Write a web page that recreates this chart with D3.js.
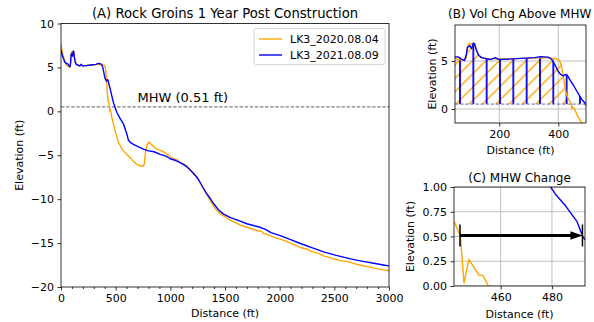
<!DOCTYPE html>
<html>
<head>
<meta charset="utf-8">
<script src="https://d3js.org/d3.v7.min.js"></script>
<style>
  body { margin: 0; background: #fff; }
  svg { font-family: "DejaVu Sans", sans-serif; }
</style>
</head>
<body>
<div id="chart"></div>
<script>
var svgWidth = 594;
var svgHeight = 322;

// ---- data ----
var mhw = 0.51;
var seriesNames = ["LK3_2020.08.04", "LK3_2021.08.09"];
var seriesColors = ["#ffa500", "#0000ff"];

// [distance (ft), elevation (ft)]
var profile2020 = [
  [0,7.7],[5,7.3],[10,6.9],[18,6.4],[30,5.9],[45,5.4],[57,5.15],[75,5.1],[88,5.3],[92,6.5],
  [97,6.8],[105,6.75],[110,6.85],[116,6.8],[122,6.1],[130,5.6],[140,5.35],[160,5.25],[200,5.2],
  [250,5.25],[300,5.3],[350,5.35],[394,5.25],[403,5.1],[410,4.6],[416,3.6],[421,2.6],[427,1.6],
  [434,1.05],[439,0.78],[442.4,0.62],[444.3,0.5],[444.7,0.37],[445.7,0.03],[447.6,0.27],
  [451.5,0.11],[453,0.11],[455.2,0.0],[465,-0.7],[494,-2.2],[525,-3.5],[550,-4.1],[571,-4.5],
  [600,-4.9],[632,-5.25],[662,-5.7],[690,-6.0],[723,-6.2],[750,-6.25],[762,-6.0],[770,-4.9],
  [785,-3.9],[800,-3.5],[820,-3.7],[850,-4.0],[876,-4.3],[920,-4.5],[968,-4.85],[1000,-5.2],
  [1029,-5.4],[1060,-5.5],[1090,-5.8],[1120,-5.95],[1150,-6.2],[1200,-6.9],[1243,-7.5],
  [1280,-8.3],[1334,-9.5],[1395,-10.8],[1440,-11.5],[1487,-11.9],[1550,-12.4],[1600,-12.7],
  [1650,-13.0],[1700,-13.2],[1750,-13.4],[1800,-13.6],[1830,-13.65],[1860,-13.95],[1883,-14.0],
  [1940,-14.3],[2005,-14.55],[2050,-14.75],[2100,-15.0],[2189,-15.5],[2250,-15.7],[2300,-16.0],
  [2350,-16.15],[2402,-16.45],[2480,-16.75],[2555,-17.0],[2600,-17.05],[2647,-17.2],[2700,-17.4],
  [2750,-17.55],[2800,-17.65],[2860,-17.85],[2950,-18.05],[3000,-18.15]
];

var profile2021 = [
  [0,7.0],[8,6.5],[20,6.1],[35,5.6],[50,5.45],[62,5.4],[72,5.2],[82,5.05],[88,5.6],[92,6.4],
  [100,6.6],[106,6.3],[112,6.85],[116,6.8],[122,6.2],[130,5.6],[140,5.35],[155,5.25],[170,5.15],
  [186,5.35],[200,5.15],[230,5.2],[260,5.25],[290,5.3],[320,5.35],[340,5.45],[365,5.4],
  [375,5.25],[383,4.95],[392,4.4],[400,3.9],[408,3.6],[417,3.44],[424,3.6],[430,3.55],[440,3.0],
  [451,2.5],[463,1.85],[474,1.28],[479.5,1.0],[481.3,0.93],[485.3,0.81],[489.8,0.65],
  [492.2,0.49],[494,0.44],[510,-0.1],[540,-0.8],[571,-1.44],[600,-2.5],[617,-3.3],[640,-3.6],
  [662,-3.75],[700,-4.0],[754,-4.3],[800,-4.5],[850,-4.6],[907,-4.9],[960,-5.1],[998,-5.4],
  [1050,-5.6],[1090,-5.85],[1150,-6.3],[1200,-6.9],[1243,-7.5],[1273,-8.1],[1300,-8.7],
  [1334,-9.4],[1364,-9.9],[1395,-10.5],[1440,-11.2],[1487,-11.7],[1550,-12.1],[1639,-12.5],
  [1700,-12.8],[1760,-13.0],[1822,-13.2],[1870,-13.45],[1920,-13.8],[2005,-14.15],[2100,-14.6],
  [2189,-15.05],[2300,-15.55],[2402,-16.0],[2500,-16.35],[2647,-16.8],[2750,-17.05],
  [2860,-17.3],[2950,-17.5],[3000,-17.6]
];

var xTicksA = [0, 500, 1000, 1500, 2000, 2500, 3000];
var yTicksA = [-20, -15, -10, -5, 0, 5, 10];
var xTicksB = [200, 400];
var yTicksB = [0, 5];
var xTicksC = [460, 480];
var yTicksC = [0, 0.25, 0.5, 0.75, 1.0];

// ---- svg ----
var svg = d3.select("#chart")
  .append("svg")
  .attr("width", svgWidth)
  .attr("height", svgHeight);

var defs = svg.append("defs");

// first downward crossing of the MHW level after a given distance
function crossing(data, level, from) {
  for (var i = 0; i < data.length - 1; i++) {
    var a = data[i], b = data[i + 1];
    if (a[0] >= from && a[1] >= level && b[1] < level) {
      return a[0] + (a[1] - level) / (a[1] - b[1]) * (b[0] - a[0]);
    }
  }
  return null;
}
var cross2020 = crossing(profile2020, mhw, 400);
var cross2021 = crossing(profile2021, mhw, 400);

function styleAxis(g) {
  g.select(".domain").remove();
  g.selectAll(".tick line").attr("stroke", "#000").attr("stroke-width", 0.8);
  g.selectAll(".tick text").attr("fill", "#000").style("font-size", "11px")
    .style("font-family", "DejaVu Sans, sans-serif");
}

function makePanel(p) {
  var x = d3.scaleLinear().domain(p.xDomain).range([p.left, p.right]);
  var y = d3.scaleLinear().domain(p.yDomain).range([p.bottom, p.top]);

  defs.append("clipPath").attr("id", "clip" + p.id)
    .append("rect")
    .attr("x", p.left).attr("y", p.top)
    .attr("width", p.right - p.left).attr("height", p.bottom - p.top);

  var g = svg.append("g");

  g.append("g")
    .attr("transform", `translate(0, ${p.bottom})`)
    .call(d3.axisBottom(x).tickValues(p.xTicks).tickSize(3.5).tickPadding(3.5).tickFormat(p.xFormat || d3.format("d")))
    .call(styleAxis);

  g.append("g")
    .attr("transform", `translate(${p.left}, 0)`)
    .call(d3.axisLeft(y).tickValues(p.yTicks).tickSize(3.5).tickPadding(3.5).tickFormat(p.yFormat || d3.format("d")))
    .call(styleAxis);

  var title = g.append("text")
    .attr("y", p.titleY)
    .style("font-size", p.titleSize)
    .text(p.title);
  if (p.titleStart != null) {
    title.attr("x", p.titleStart).attr("text-anchor", "start");
  } else {
    title.attr("x", (p.left + p.right) / 2).attr("text-anchor", "middle");
  }

  g.append("text")
    .attr("x", (p.left + p.right) / 2)
    .attr("y", p.xLabelY)
    .attr("text-anchor", "middle")
    .style("font-size", "11px")
    .text("Distance (ft)");

  g.append("text")
    .attr("transform", `translate(${p.yLabelX}, ${(p.top + p.bottom) / 2}) rotate(-90)`)
    .attr("text-anchor", "middle")
    .style("font-size", "11px")
    .text("Elevation (ft)");

  var plot = g.append("g").attr("clip-path", `url(#clip${p.id})`);
  return { x: x, y: y, g: g, plot: plot, p: p };
}

function grid(panel, xs, ys) {
  var gg = panel.plot.append("g");
  gg.selectAll(".gx").data(xs).enter().append("line")
    .attr("x1", d => panel.x(d)).attr("x2", d => panel.x(d))
    .attr("y1", panel.p.top).attr("y2", panel.p.bottom)
    .attr("stroke", "#b0b0b0").attr("stroke-width", 0.8);
  gg.selectAll(".gy").data(ys).enter().append("line")
    .attr("x1", panel.p.left).attr("x2", panel.p.right)
    .attr("y1", d => panel.y(d)).attr("y2", d => panel.y(d))
    .attr("stroke", "#b0b0b0").attr("stroke-width", 0.8);
}

function drawLines(panel, width) {
  var line = d3.line().x(d => panel.x(d[0])).y(d => panel.y(d[1]));
  [profile2020, profile2021].forEach(function(data, i) {
    panel.plot.append("path")
      .datum(data)
      .attr("d", line)
      .attr("fill", "none")
      .attr("stroke", seriesColors[i])
      .attr("stroke-width", width)
      .attr("stroke-linejoin", "round");
  });
}

function frame(panel) {
  var p = panel.p;
  panel.g.append("rect")
    .attr("x", p.left).attr("y", p.top)
    .attr("width", p.right - p.left).attr("height", p.bottom - p.top)
    .attr("fill", "none").attr("stroke", "#000").attr("stroke-width", 0.8);
}

// ---- (A) full profile ----
var A = makePanel({
  id: "A", left: 61, right: 389, top: 23.5, bottom: 287,
  xDomain: [0, 3000], yDomain: [-20, 10],
  xTicks: xTicksA, yTicks: yTicksA,
  title: "(A) Rock Groins 1 Year Post Construction", titleY: 17.5, titleSize: "13.2px",
  xLabelY: 316.5, yLabelX: 23
});

// minor x ticks
A.g.append("g")
  .attr("transform", `translate(0, ${A.p.bottom})`)
  .call(d3.axisBottom(A.x).tickValues(d3.range(100, 3000, 100).filter(d => d % 500 !== 0)).tickSize(2).tickFormat(""))
  .call(styleAxis);

A.plot.append("line")
  .attr("x1", A.p.left).attr("x2", A.p.right)
  .attr("y1", A.y(mhw)).attr("y2", A.y(mhw))
  .attr("stroke", "#808080").attr("stroke-width", 1.1)
  .attr("stroke-dasharray", "3.5,1.6");

A.g.append("text")
  .attr("x", A.x(700))
  .attr("y", A.y(mhw) - 4.5)
  .style("font-size", "13px")
  .text("MHW (0.51 ft)");

drawLines(A, 1.4);
frame(A);

// legend
var legend = A.g.append("g");
legend.append("rect")
  .attr("x", 254).attr("y", 28.5).attr("width", 131).attr("height", 36)
  .attr("rx", 2).attr("fill", "#fff").attr("fill-opacity", 0.8)
  .attr("stroke", "#cccccc").attr("stroke-width", 0.8);
seriesNames.forEach(function(name, i) {
  legend.append("line")
    .attr("x1", 259).attr("x2", 282)
    .attr("y1", 39 + i * 16).attr("y2", 39 + i * 16)
    .attr("stroke", seriesColors[i]).attr("stroke-width", 1.4);
  legend.append("text")
    .attr("x", 290).attr("y", 43 + i * 16)
    .style("font-size", "11px")
    .text(name);
});

// ---- (B) volume change above MHW ----
var B = makePanel({
  id: "B", left: 455, right: 586, top: 25, bottom: 123,
  xDomain: [50, 494], yDomain: [-1.46, 8.75],
  xTicks: xTicksB, yTicks: yTicksB,
  title: "(B) Vol Chg Above MHW", titleY: 18, titleSize: "12px", titleStart: 448,
  xLabelY: 153.5, yLabelX: 436
});

grid(B, xTicksB, yTicksB);

var hatchStep = 13.33;
var patO = defs.append("pattern").attr("id", "hatchOrange")
  .attr("patternUnits", "userSpaceOnUse")
  .attr("x", 455).attr("y", 25)
  .attr("width", hatchStep).attr("height", hatchStep);
patO.append("path")
  .attr("d", `M0,${hatchStep} L${hatchStep},0 M-2,2 L2,-2 M${hatchStep - 2},${hatchStep + 2} L${hatchStep + 2},${hatchStep - 2}`)
  .attr("stroke", seriesColors[0]).attr("stroke-width", 1.4);

var patB = defs.append("pattern").attr("id", "hatchBlue")
  .attr("patternUnits", "userSpaceOnUse")
  .attr("x", 460 - hatchStep / 2).attr("y", 0)
  .attr("width", hatchStep).attr("height", hatchStep);
patB.append("line")
  .attr("x1", hatchStep / 2).attr("x2", hatchStep / 2)
  .attr("y1", 0).attr("y2", hatchStep)
  .attr("stroke", seriesColors[1]).attr("stroke-width", 1.8);

function aboveMhw(data, cross) {
  var pts = data.filter(d => d[0] < cross);
  pts.push([cross, mhw]);
  return pts;
}
var area = d3.area()
  .x(d => B.x(d[0]))
  .y0(B.y(mhw))
  .y1(d => B.y(d[1]));

B.plot.append("path").datum(aboveMhw(profile2020, cross2020))
  .attr("d", area).attr("fill", "url(#hatchOrange)");
B.plot.append("path").datum(aboveMhw(profile2021, cross2021))
  .attr("d", area).attr("fill", "url(#hatchBlue)");

B.plot.append("line")
  .attr("x1", B.p.left).attr("x2", B.p.right)
  .attr("y1", B.y(mhw)).attr("y2", B.y(mhw))
  .attr("stroke", "#6a6aa8").attr("stroke-width", 1)
  .attr("stroke-dasharray", "3.5,1.6");

drawLines(B, 1.4);
frame(B);

// ---- (C) MHW shoreline change ----
var C = makePanel({
  id: "C", left: 454, right: 585, top: 187, bottom: 286,
  xDomain: [441.8, 492.9], yDomain: [0, 1],
  xTicks: xTicksC, yTicks: yTicksC, yFormat: d3.format(".2f"),
  title: "(C) MHW Change", titleY: 181.5, titleSize: "12px",
  xLabelY: 317.5, yLabelX: 414
});

grid(C, xTicksC, yTicksC);
drawLines(C, 1.4);

var arrowY = C.y(mhw);
var x0 = C.x(cross2020), x1 = C.x(cross2021);
C.g.append("line")
  .attr("x1", x0).attr("x2", x1 - 10)
  .attr("y1", arrowY).attr("y2", arrowY)
  .attr("stroke", "#000").attr("stroke-width", 2.8);
C.g.append("path")
  .attr("d", `M${x1},${arrowY} L${x1 - 12},${arrowY - 4.2} L${x1 - 12},${arrowY + 4.2} Z`)
  .attr("fill", "#000");
[x0, x1].forEach(function(xx) {
  C.g.append("line")
    .attr("x1", xx).attr("x2", xx)
    .attr("y1", arrowY - 11).attr("y2", arrowY + 11)
    .attr("stroke", "#000").attr("stroke-width", 1.5);
});
frame(C);
</script>
</body>
</html>
